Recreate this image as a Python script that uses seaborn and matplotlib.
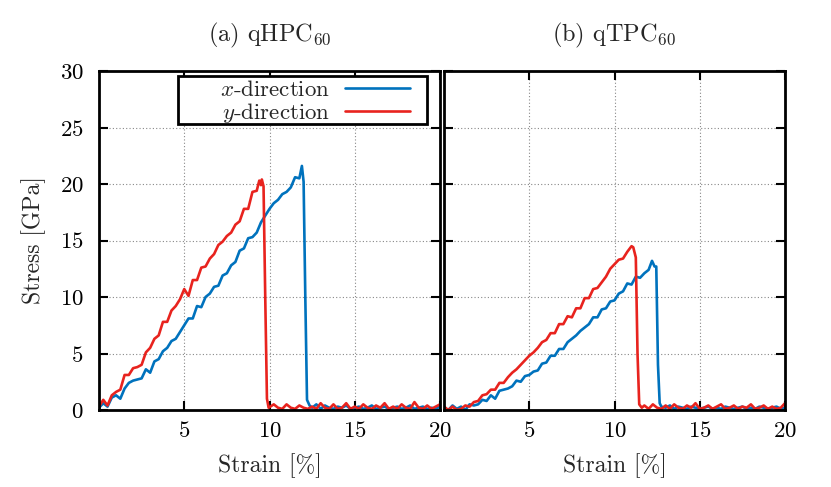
import numpy as np
import pandas as pd
import matplotlib
matplotlib.use("Agg")
import matplotlib.pyplot as plt
from matplotlib.patches import Rectangle
import seaborn as sns

# ---------------- data ----------------
panel_titles = [r"(a) qHPC$_{60}$", r"(b) qTPC$_{60}$"]
series_labels = [r"$x$-direction", r"$y$-direction"]
xticks = [5, 10, 15, 20]
yticks = [0, 5, 10, 15, 20, 25, 30]

tail_strain = [12.5, 12.75, 13.0, 13.25, 13.5, 13.75, 14.0, 14.25, 14.5, 14.75, 15.0, 15.25, 15.5,
               15.75, 16.0, 16.25, 16.5, 16.75, 17.0, 17.25, 17.5, 17.75, 18.0, 18.25, 18.5, 18.75,
               19.0, 19.25, 19.5, 19.75, 20.0]

# (a) qHPC60, x-direction
a_x_strain = [0, 0.25, 0.5, 0.75, 1.0, 1.25, 1.5, 1.75, 2.0, 2.25, 2.5, 2.75, 3.0, 3.25, 3.5, 3.75,
              4.0, 4.25, 4.5, 4.75, 5.0, 5.25, 5.5, 5.75, 6.0, 6.25, 6.5, 6.75, 7.0, 7.25, 7.5, 7.75,
              8.0, 8.25, 8.5, 8.75, 9.0, 9.25, 9.5, 9.75, 10.0, 10.25, 10.5, 10.75, 11.0, 11.25,
              11.5, 11.75, 11.9, 12.0, 12.1, 12.2, 12.35] + tail_strain
a_x_stress = [0.2, 0.6, 0.3, 1.1, 1.3, 1.0, 1.9, 2.4, 2.6, 2.7, 2.8, 3.6, 3.3, 4.3, 4.5, 5.2,
              5.5, 6.1, 6.3, 6.9, 7.5, 8.1, 8.1, 9.2, 9.1, 10.0, 10.3, 10.9, 11.0, 11.9, 12.1, 12.8,
              13.1, 14.1, 14.3, 15.2, 15.3, 15.7, 16.6, 17.2, 17.8, 18.3, 18.6, 19.1, 19.3, 19.7,
              20.6, 20.5, 21.6, 20.2, 10.0, 0.9, 0.4,
              0.2, 0.5, 0.1, 0.4, 0.2, 0.1, 0.3, 0.2, 0.4, 0.1, 0.2, 0.3, 0.1, 0.2, 0.4, 0.1,
              0.2, 0.3, 0.1, 0.2, 0.3, 0.1, 0.2, 0.4, 0.1, 0.2, 0.3, 0.1, 0.2, 0.1, 0.3]

# (a) qHPC60, y-direction
a_y_strain = [0, 0.25, 0.5, 0.75, 1.0, 1.25, 1.5, 1.75, 2.0, 2.25, 2.5, 2.75, 3.0, 3.25, 3.5, 3.75,
              4.0, 4.25, 4.5, 4.75, 5.0, 5.25, 5.5, 5.75, 6.0, 6.25, 6.5, 6.75, 7.0, 7.25, 7.5, 7.75,
              8.0, 8.25, 8.5, 8.75, 9.0, 9.25, 9.4, 9.5, 9.55, 9.65, 9.75, 9.85, 9.95, 10.25, 10.5,
              10.75, 11.0, 11.25, 11.5, 11.75, 12.0, 12.25] + tail_strain
a_y_stress = [0.3, 0.9, 0.4, 1.3, 1.6, 1.8, 3.1, 3.1, 3.7, 3.8, 4.0, 5.1, 5.5, 6.3, 6.6, 7.8,
              7.8, 8.8, 9.2, 9.8, 10.7, 10.1, 11.5, 11.5, 12.6, 12.7, 13.4, 13.8, 14.6, 14.9, 15.4, 15.7,
              16.4, 16.7, 17.8, 17.8, 19.3, 19.4, 20.3, 19.9, 20.4, 19.8, 10.0, 1.0, 0.2, 0.5, 0.2,
              0.1, 0.5, 0.2, 0.1, 0.4, 0.2, 0.1,
              0.3, 0.1, 0.6, 0.2, 0.1, 0.5, 0.1, 0.2, 0.6, 0.1, 0.3, 0.1, 0.5, 0.2, 0.1, 0.4,
              0.2, 0.6, 0.1, 0.3, 0.1, 0.5, 0.2, 0.1, 0.7, 0.2, 0.1, 0.4, 0.1, 0.3, 0.5]

# (b) qTPC60, x-direction
b_x_strain = [0, 0.25, 0.5, 0.75, 1.0, 1.25, 1.5, 1.75, 2.0, 2.25, 2.5, 2.75, 3.0, 3.25, 3.5, 3.75,
              4.0, 4.25, 4.5, 4.75, 5.0, 5.25, 5.5, 5.75, 6.0, 6.25, 6.5, 6.75, 7.0, 7.25, 7.5, 7.75,
              8.0, 8.25, 8.5, 8.75, 9.0, 9.25, 9.5, 9.75, 10.0, 10.25, 10.5, 10.75, 11.0, 11.25,
              11.5, 11.75, 12.0, 12.2, 12.35, 12.45, 12.55, 12.65, 12.75, 13.0, 13.25] + tail_strain[4:]
b_x_stress = [0.2, 0.0, 0.4, 0.1, 0.3, 0.0, 0.5, 0.4, 0.5, 0.9, 0.8, 1.3, 1.0, 1.7, 1.8, 1.9,
              2.1, 2.6, 2.5, 3.0, 3.1, 3.4, 3.5, 4.1, 4.2, 4.8, 4.8, 5.4, 5.4, 6.0, 6.3, 6.6,
              7.0, 7.3, 7.6, 8.2, 8.2, 8.9, 9.0, 9.6, 9.7, 10.3, 10.5, 11.2, 11.1, 11.8,
              11.7, 12.1, 12.4, 13.2, 12.7, 12.7, 4.0, 0.6, 0.3, 0.2, 0.4,
              0.1, 0.3, 0.2, 0.1, 0.3, 0.2, 0.1, 0.2, 0.3, 0.1, 0.2, 0.1, 0.3, 0.2, 0.1, 0.2,
              0.3, 0.1, 0.2, 0.1, 0.3, 0.2, 0.1, 0.2, 0.3, 0.1, 0.2]

# (b) qTPC60, y-direction
b_y_strain = [0, 0.25, 0.5, 0.75, 1.0, 1.25, 1.5, 1.75, 2.0, 2.25, 2.5, 2.75, 3.0, 3.25, 3.5, 3.75,
              4.0, 4.25, 4.5, 4.75, 5.0, 5.25, 5.5, 5.75, 6.0, 6.25, 6.5, 6.75, 7.0, 7.25, 7.5, 7.75,
              8.0, 8.25, 8.5, 8.75, 9.0, 9.25, 9.5, 9.75, 10.0, 10.25, 10.5, 10.75, 11.0, 11.1,
              11.25, 11.35, 11.45, 11.6, 11.75, 12.0, 12.25] + tail_strain
b_y_stress = [0.3, 0.0, 0.3, 0.0, 0.1, 0.4, 0.3, 0.7, 0.8, 1.3, 1.4, 1.8, 1.8, 2.4, 2.4, 2.9,
              3.3, 3.6, 4.0, 4.4, 4.8, 5.1, 5.5, 6.0, 6.2, 6.8, 6.8, 7.6, 7.6, 8.3, 8.2, 9.0,
              9.0, 9.9, 9.9, 10.7, 10.8, 11.3, 11.8, 12.5, 12.9, 13.3, 13.4, 14.0, 14.5, 14.4,
              13.5, 5.0, 0.5, 0.2, 0.4, 0.1, 0.5,
              0.2, 0.1, 0.4, 0.1, 0.5, 0.2, 0.1, 0.4, 0.2, 0.6, 0.1, 0.2, 0.4, 0.1, 0.3, 0.5,
              0.1, 0.2, 0.4, 0.1, 0.3, 0.2, 0.5, 0.1, 0.2, 0.4, 0.1, 0.3, 0.1, 0.2, 0.6]

colors = {series_labels[0]: "#0072BD", series_labels[1]: "#E8231E"}

panels = [
    [(series_labels[0], a_x_strain, a_x_stress), (series_labels[1], a_y_strain, a_y_stress)],
    [(series_labels[0], b_x_strain, b_x_stress), (series_labels[1], b_y_strain, b_y_stress)],
]

# ---------------- style ----------------
sns.set_theme(style="ticks")
plt.rcParams["font.family"] = ["cmr10", "DejaVu Serif"]
plt.rcParams["mathtext.fontset"] = "cm"
plt.rcParams["axes.formatter.use_mathtext"] = True
plt.rcParams["axes.unicode_minus"] = False

W, H = 831, 487
fig = plt.figure(figsize=(W / 100, H / 100), dpi=100)
ax_pos = [[99, 71, 341, 339], [444, 71, 341, 339]]
axes = []
for (x0, y0, w, h) in ax_pos:
    axes.append(fig.add_axes([x0 / W, 1 - (y0 + h) / H, w / W, h / H]))

fs = 16.5
for i, ax in enumerate(axes):
    frames = []
    for lab, sx, sy in panels[i]:
        frames.append(pd.DataFrame({"Strain": sx, "Stress": sy, "series": lab}))
    df = pd.concat(frames, ignore_index=True)
    sns.lineplot(data=df, x="Strain", y="Stress", hue="series", palette=colors,
                 ax=ax, lw=1.9, sort=False, estimator=None, legend=(i == 0))
    ax.set_xlim(0, 20)
    ax.set_ylim(0, 30)
    ax.set_xticks(xticks)
    ax.set_yticks(yticks)
    ax.grid(True, color="#888888", linestyle=(0, (1, 2)), linewidth=0.8)
    ax.tick_params(direction="in", length=6.5, width=1.5, top=True, right=True,
                   labelsize=fs, pad=8, colors="black")
    ax.tick_params(axis="y", pad=11)
    for sp in ax.spines.values():
        sp.set_linewidth(2.0)
        sp.set_color("black")
    ax.set_title(panel_titles[i], fontsize=17.5, pad=21)
    ax.set_xlabel("Strain [%]", fontsize=17, labelpad=9)
    if i == 0:
        ax.set_ylabel("Stress [GPa]", fontsize=17, labelpad=10)
        # legend box (gnuplot style: wide frame, text right-aligned, sample on the right)
        box = Rectangle((0.2317, 0.8437), 0.7303, 0.1416, transform=ax.transAxes,
                        facecolor="white", edgecolor="black", lw=2.0, zorder=5)
        ax.add_patch(box)
        leg = ax.legend(loc="upper right", bbox_to_anchor=(0.921, 0.985), markerfirst=False,
                        fontsize=fs, frameon=False,
                        handlelength=2.8, borderpad=0.15, labelspacing=0.08,
                        borderaxespad=0.0, handletextpad=0.65)
        leg.set_zorder(6)
        for col in leg._legend_handle_box.get_children():
            col.align = "right"
        leg.set_title(None)
    else:
        ax.set_ylabel("")
        ax.set_yticklabels([])

fig.savefig("out.png", dpi=100)
